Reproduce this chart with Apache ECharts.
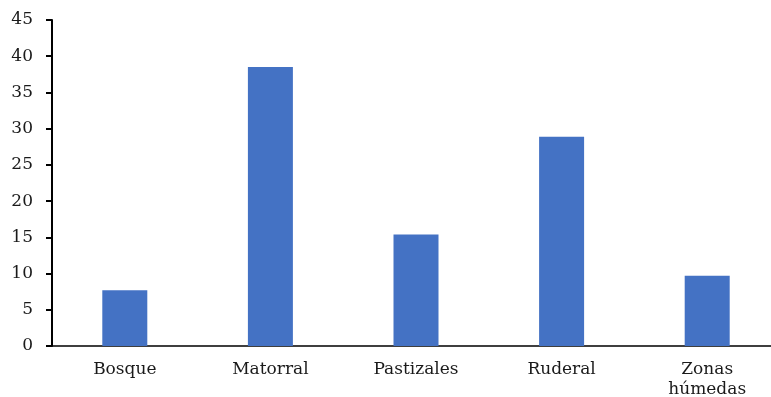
<!DOCTYPE html>
<html>
<head>
<meta charset="utf-8">
<script src="https://cdn.jsdelivr.net/npm/echarts@6/dist/echarts.min.js"></script>
<style>
  html, body { margin: 0; padding: 0; background: #ffffff; overflow: hidden; }
  #chart { width: 780px; height: 397px; }
</style>
</head>
<body>
<div id="chart"></div>
<script>
// Habitat categories and their percentages
const categories = ['Bosque', 'Matorral', 'Pastizales', 'Ruderal', 'Zonas\nhúmedas'];
const values = [7.7, 38.5, 15.4, 28.9, 9.7];
const yTicks = { min: 0, max: 45, interval: 5 };

const fontFamily = '"DejaVu Serif", "Liberation Serif", serif';

const chart = echarts.init(document.getElementById('chart'), null, { renderer: 'canvas' });
chart.setOption({
  backgroundColor: '#ffffff',
  animation: false,
  grid: { left: 52, top: 20, right: 0, bottom: 51, containLabel: false, outerBoundsMode: 'none' },
  xAxis: {
    type: 'category',
    data: categories,
    axisLine: { lineStyle: { color: '#000000', width: 1.5 } },
    axisTick: { show: false },
    axisLabel: {
      color: '#1a1a1a',
      fontFamily: fontFamily,
      fontSize: 17,
      margin: 14,
      lineHeight: 20
    }
  },
  yAxis: {
    type: 'value',
    min: yTicks.min,
    max: yTicks.max,
    interval: yTicks.interval,
    axisLine: { show: true, lineStyle: { color: '#000000', width: 2 } },
    axisTick: { show: true, inside: false, length: 6, lineStyle: { color: '#000000', width: 2 } },
    splitLine: { show: false },
    axisLabel: {
      color: '#1a1a1a',
      fontFamily: fontFamily,
      fontSize: 17,
      margin: 19
    }
  },
  series: [{
    type: 'bar',
    data: values,
    barWidth: 45,
    itemStyle: { color: '#4472C4' }
  }]
});
</script>
</body>
</html>
